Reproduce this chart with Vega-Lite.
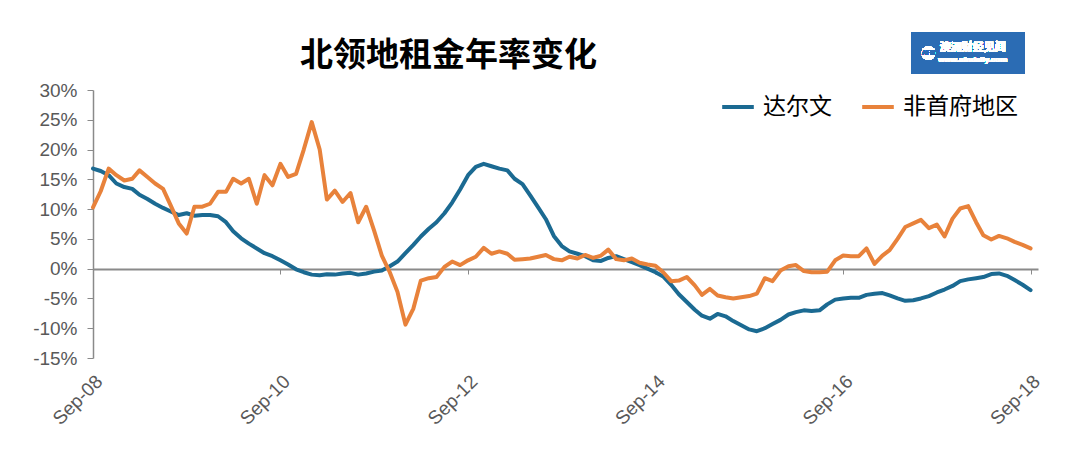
{
  "$schema": "https://vega.github.io/schema/vega-lite/v6.json",
  "width": 945,
  "height": 268,
  "autosize": {"type": "none"},
  "padding": {"left": 93, "top": 90, "right": 42, "bottom": 116},
  "background": "white",
  "config": {
    "view": {"stroke": null},
    "font": "Liberation Sans",
    "axisX": {
      "title": null,
      "grid": false,
      "format": "%b-%y",
      "offset": -89,
      "domainColor": "#8a8a8a",
      "domainWidth": 2,
      "tickColor": "#8a8a8a",
      "tickSize": 5,
      "labelAngle": -45,
      "labelAlign": "right",
      "labelBaseline": "middle",
      "labelPadding": 104,
      "labelOffset": 6,
      "labelFont": "Liberation Sans",
      "labelFontSize": 19,
      "labelColor": "#595959",
      "labelOverlap": false
    },
    "axisY": {
      "title": null,
      "grid": false,
      "labelExpr": "datum.value + '%'",
      "labelOverlap": false,
      "labelBound": false,
      "domainColor": "#8a8a8a",
      "domainWidth": 1.5,
      "tickColor": "#8a8a8a",
      "tickSize": 6,
      "labelPadding": 10,
      "labelFont": "Liberation Sans",
      "labelFontSize": 19,
      "labelColor": "#595959"
    }
  },
  "title": {
    "text": "北领地租金年率变化",
    "font": "Noto Sans CJK SC",
    "fontSize": 33,
    "fontWeight": "bold",
    "color": "#000000",
    "anchor": "start",
    "frame": "group",
    "dx": 207,
    "offset": -40
  },
  "data": {
    "values": [
      {"月份": "2008-09-01", "达尔文": 16.8, "非首府地区": 10.3},
      {"月份": "2008-10-01", "达尔文": 16.4, "非首府地区": 13.0},
      {"月份": "2008-11-01", "达尔文": 15.7, "非首府地区": 16.8},
      {"月份": "2008-12-01", "达尔文": 14.3, "非首府地区": 15.7},
      {"月份": "2009-01-01", "达尔文": 13.7, "非首府地区": 14.8},
      {"月份": "2009-02-01", "达尔文": 13.4, "非首府地区": 15.1},
      {"月份": "2009-03-01", "达尔文": 12.4, "非首府地区": 16.5},
      {"月份": "2009-04-01", "达尔文": 11.7, "非首府地区": 15.4},
      {"月份": "2009-05-01", "达尔文": 10.9, "非首府地区": 14.3},
      {"月份": "2009-06-01", "达尔文": 10.2, "非首府地区": 13.4},
      {"月份": "2009-07-01", "达尔文": 9.6, "非首府地区": 10.6},
      {"月份": "2009-08-01", "达尔文": 9.0, "非首府地区": 7.6},
      {"月份": "2009-09-01", "达尔文": 9.3, "非首府地区": 5.9},
      {"月份": "2009-10-01", "达尔文": 8.9, "非首府地区": 10.4},
      {"月份": "2009-11-01", "达尔文": 9.0, "非首府地区": 10.4},
      {"月份": "2009-12-01", "达尔文": 9.0, "非首府地区": 10.9},
      {"月份": "2010-01-01", "达尔文": 8.8, "非首府地区": 12.9},
      {"月份": "2010-02-01", "达尔文": 7.8, "非首府地区": 12.9},
      {"月份": "2010-03-01", "达尔文": 6.3, "非首府地区": 15.1},
      {"月份": "2010-04-01", "达尔文": 5.1, "非首府地区": 14.3},
      {"月份": "2010-05-01", "达尔文": 4.2, "非首府地区": 15.1},
      {"月份": "2010-06-01", "达尔文": 3.4, "非首府地区": 10.9},
      {"月份": "2010-07-01", "达尔文": 2.6, "非首府地区": 15.7},
      {"月份": "2010-08-01", "达尔文": 2.1, "非首府地区": 14.0},
      {"月份": "2010-09-01", "达尔文": 1.4, "非首府地区": 17.6},
      {"月份": "2010-10-01", "达尔文": 0.7, "非首府地区": 15.4},
      {"月份": "2010-11-01", "达尔文": -0.1, "非首府地区": 15.9},
      {"月份": "2010-12-01", "达尔文": -0.6, "非首府地区": 20.0},
      {"月份": "2011-01-01", "达尔文": -1.0, "非首府地区": 24.6},
      {"月份": "2011-02-01", "达尔文": -1.1, "非首府地区": 20.0},
      {"月份": "2011-03-01", "达尔文": -0.95, "非首府地区": 11.6},
      {"月份": "2011-04-01", "达尔文": -1.0, "非首府地区": 13.1},
      {"月份": "2011-05-01", "达尔文": -0.8, "非首府地区": 11.2},
      {"月份": "2011-06-01", "达尔文": -0.7, "非首府地区": 12.7},
      {"月份": "2011-07-01", "达尔文": -1.0, "非首府地区": 7.8},
      {"月份": "2011-08-01", "达尔文": -0.8, "非首府地区": 10.4},
      {"月份": "2011-09-01", "达尔文": -0.5, "非首府地区": 6.4},
      {"月份": "2011-10-01", "达尔文": -0.3, "非首府地区": 2.2},
      {"月份": "2011-11-01", "达尔文": 0.4, "非首府地区": -0.6},
      {"月份": "2011-12-01", "达尔文": 1.2, "非首府地区": -3.9},
      {"月份": "2012-01-01", "达尔文": 2.6, "非首府地区": -9.4},
      {"月份": "2012-02-01", "达尔文": 4.0, "非首府地区": -6.7},
      {"月份": "2012-03-01", "达尔文": 5.4, "非首府地区": -2.0},
      {"月份": "2012-04-01", "达尔文": 6.7, "非首府地区": -1.6},
      {"月份": "2012-05-01", "达尔文": 7.8, "非首府地区": -1.4},
      {"月份": "2012-06-01", "达尔文": 9.3, "非首府地区": 0.3},
      {"月份": "2012-07-01", "达尔文": 11.1, "非首府地区": 1.2},
      {"月份": "2012-08-01", "达尔文": 13.3, "非首府地区": 0.6},
      {"月份": "2012-09-01", "达尔文": 15.7, "非首府地区": 1.4},
      {"月份": "2012-10-01", "达尔文": 17.1, "非首府地区": 2.0},
      {"月份": "2012-11-01", "达尔文": 17.6, "非首府地区": 3.5},
      {"月份": "2012-12-01", "达尔文": 17.2, "非首府地区": 2.5},
      {"月份": "2013-01-01", "达尔文": 16.8, "非首府地区": 2.9},
      {"月份": "2013-02-01", "达尔文": 16.5, "非首府地区": 2.5},
      {"月份": "2013-03-01", "达尔文": 15.1, "非首府地区": 1.5},
      {"月份": "2013-04-01", "达尔文": 14.2, "非首府地区": 1.6},
      {"月份": "2013-05-01", "达尔文": 12.3, "非首府地区": 1.7},
      {"月份": "2013-06-01", "达尔文": 10.3, "非首府地区": 2.0},
      {"月份": "2013-07-01", "达尔文": 8.3, "非首府地区": 2.3},
      {"月份": "2013-08-01", "达尔文": 5.5, "非首府地区": 1.6},
      {"月份": "2013-09-01", "达尔文": 3.8, "非首府地区": 1.4},
      {"月份": "2013-10-01", "达尔文": 2.9, "非首府地区": 2.0},
      {"月份": "2013-11-01", "达尔文": 2.5, "非首府地区": 1.7},
      {"月份": "2013-12-01", "达尔文": 2.1, "非首府地区": 2.3},
      {"月份": "2014-01-01", "达尔文": 1.4, "非首府地区": 1.8},
      {"月份": "2014-02-01", "达尔文": 1.3, "非首府地区": 2.2},
      {"月份": "2014-03-01", "达尔文": 1.8, "非首府地区": 3.2},
      {"月份": "2014-04-01", "达尔文": 2.1, "非首府地区": 1.6},
      {"月份": "2014-05-01", "达尔文": 1.6, "非首府地区": 1.4},
      {"月份": "2014-06-01", "达尔文": 1.1, "非首府地区": 1.7},
      {"月份": "2014-07-01", "达尔文": 0.6, "非首府地区": 1.0},
      {"月份": "2014-08-01", "达尔文": 0.0, "非首府地区": 0.7},
      {"月份": "2014-09-01", "达尔文": -0.6, "非首府地区": 0.5},
      {"月份": "2014-10-01", "达尔文": -1.3, "非首府地区": -0.6},
      {"月份": "2014-11-01", "达尔文": -2.7, "非首府地区": -2.1},
      {"月份": "2014-12-01", "达尔文": -4.3, "非首府地区": -2.0},
      {"月份": "2015-01-01", "达尔文": -5.6, "非首府地区": -1.4},
      {"月份": "2015-02-01", "达尔文": -6.9, "非首府地区": -2.8},
      {"月份": "2015-03-01", "达尔文": -7.9, "非首府地区": -4.4},
      {"月份": "2015-04-01", "达尔文": -8.4, "非首府地区": -3.4},
      {"月份": "2015-05-01", "达尔文": -7.6, "非首府地区": -4.5},
      {"月份": "2015-06-01", "达尔文": -8.0, "非首府地区": -4.8},
      {"月份": "2015-07-01", "达尔文": -8.8, "非首府地区": -5.0},
      {"月份": "2015-08-01", "达尔文": -9.5, "非首府地区": -4.8},
      {"月份": "2015-09-01", "达尔文": -10.2, "非首府地区": -4.6},
      {"月份": "2015-10-01", "达尔文": -10.5, "非首府地区": -4.2},
      {"月份": "2015-11-01", "达尔文": -10.0, "非首府地区": -1.6},
      {"月份": "2015-12-01", "达尔文": -9.3, "非首府地区": -2.1},
      {"月份": "2016-01-01", "达尔文": -8.6, "非首府地区": -0.3},
      {"月份": "2016-02-01", "达尔文": -7.7, "非首府地区": 0.4},
      {"月份": "2016-03-01", "达尔文": -7.3, "非首府地区": 0.6},
      {"月份": "2016-04-01", "达尔文": -7.0, "非首府地区": -0.4},
      {"月份": "2016-05-01", "达尔文": -7.1, "非首府地区": -0.6},
      {"月份": "2016-06-01", "达尔文": -7.0, "非首府地区": -0.6},
      {"月份": "2016-07-01", "达尔文": -6.0, "非首府地区": -0.5},
      {"月份": "2016-08-01", "达尔文": -5.2, "非首府地区": 1.4},
      {"月份": "2016-09-01", "达尔文": -5.0, "非首府地区": 2.2},
      {"月份": "2016-10-01", "达尔文": -4.9, "非首府地区": 2.1},
      {"月份": "2016-11-01", "达尔文": -4.9, "非首府地区": 2.1},
      {"月份": "2016-12-01", "达尔文": -4.4, "非首府地区": 3.4},
      {"月份": "2017-01-01", "达尔文": -4.2, "非首府地区": 0.8},
      {"月份": "2017-02-01", "达尔文": -4.1, "非首府地区": 2.2},
      {"月份": "2017-03-01", "达尔文": -4.5, "非首府地区": 3.1},
      {"月份": "2017-04-01", "达尔文": -5.0, "非首府地区": 5.0},
      {"月份": "2017-05-01", "达尔文": -5.4, "非首府地区": 7.0},
      {"月份": "2017-06-01", "达尔文": -5.3, "非首府地区": 7.6},
      {"月份": "2017-07-01", "达尔文": -5.0, "非首府地区": 8.2},
      {"月份": "2017-08-01", "达尔文": -4.6, "非首府地区": 6.8},
      {"月份": "2017-09-01", "达尔文": -4.0, "非首府地区": 7.4},
      {"月份": "2017-10-01", "达尔文": -3.5, "非首府地区": 5.4},
      {"月份": "2017-11-01", "达尔文": -2.9, "非首府地区": 8.4},
      {"月份": "2017-12-01", "达尔文": -2.1, "非首府地区": 10.1},
      {"月份": "2018-01-01", "达尔文": -1.8, "非首府地区": 10.5},
      {"月份": "2018-02-01", "达尔文": -1.6, "非首府地区": 7.8},
      {"月份": "2018-03-01", "达尔文": -1.4, "非首府地区": 5.6},
      {"月份": "2018-04-01", "达尔文": -0.9, "非首府地区": 4.9},
      {"月份": "2018-05-01", "达尔文": -0.8, "非首府地区": 5.5},
      {"月份": "2018-06-01", "达尔文": -1.2, "非首府地区": 5.1},
      {"月份": "2018-07-01", "达尔文": -1.9, "非首府地区": 4.5},
      {"月份": "2018-08-01", "达尔文": -2.7, "非首府地区": 4.0},
      {"月份": "2018-09-01", "达尔文": -3.6, "非首府地区": 3.4}
    ]
  },
  "layer": [
    {
      "transform": [{"fold": ["达尔文", "非首府地区"], "as": ["地区", "年率"]}],
      "mark": {"type": "line", "strokeWidth": 4, "strokeJoin": "round", "strokeCap": "round"},
      "encoding": {
        "x": {
          "field": "月份",
          "type": "temporal",
          "scale": {"domain": [{"year": 2008, "month": 9, "date": 1}, {"year": 2018, "month": 9, "date": 30}]},
          "axis": {
            "tickCount": 20,
            "values": [
              {"year": 2008, "month": 9, "date": 1},
              {"year": 2010, "month": 9, "date": 1},
              {"year": 2012, "month": 9, "date": 1},
              {"year": 2014, "month": 9, "date": 1},
              {"year": 2016, "month": 9, "date": 1},
              {"year": 2018, "month": 9, "date": 1}
            ]
          }
        },
        "y": {
          "field": "年率",
          "type": "quantitative",
          "scale": {"domain": [-15, 30], "nice": false, "zero": false},
          "axis": {"values": [-15, -10, -5, 0, 5, 10, 15, 20, 25, 30], "tickCount": 20, "labelOverlap": false}
        },
        "color": {
          "field": "地区",
          "type": "nominal",
          "scale": {"domain": ["达尔文", "非首府地区"], "range": ["#1b6a92", "#e8823b"]},
          "legend": {
            "title": null,
            "orient": "none",
            "legendX": 627,
            "legendY": -1,
            "direction": "horizontal",
            "symbolType": "stroke",
            "symbolStrokeWidth": 4,
            "symbolSize": 1000,
            "labelFont": "Noto Sans CJK SC",
            "labelFontSize": 23,
            "labelColor": "#000000",
            "labelOffset": 7,
            "columnPadding": 22
          }
        }
      }
    },
    {
      "mark": {"type": "rect", "color": "#2b6cb4"},
      "encoding": {
        "x": {"datum": {"year": 2017, "month": 5, "date": 25}},
        "x2": {"datum": {"year": 2018, "month": 8, "date": 10}},
        "y": {"datum": 39.6},
        "y2": {"datum": 32.7}
      }
    },
    {
      "mark": {"type": "point", "filled": true, "color": "#ffffff", "opacity": 1, "size": 190},
      "encoding": {
        "x": {"datum": {"year": 2017, "month": 7, "date": 30}},
        "y": {"datum": 36.2}
      }
    },
    {
      "mark": {"type": "text", "text": "AFN", "font": "Liberation Sans", "fontSize": 6.5, "fontWeight": "bold", "color": "#2b6cb4", "align": "center", "baseline": "middle"},
      "encoding": {
        "x": {"datum": {"year": 2017, "month": 7, "date": 30}},
        "y": {"datum": 36.2}
      }
    },
    {
      "mark": {"type": "text", "text": "澳洲财经见闻", "font": "Noto Sans CJK SC", "fontSize": 11, "fontWeight": "bold", "color": "#ffffff", "align": "center", "baseline": "middle"},
      "encoding": {
        "x": {"datum": {"year": 2018, "month": 1, "date": 19}},
        "y": {"datum": 37.0}
      }
    },
    {
      "mark": {"type": "text", "text": "www.afndaily.com", "font": "Liberation Sans", "fontSize": 8, "fontWeight": "bold", "color": "#ffffff", "align": "center", "baseline": "middle"},
      "encoding": {
        "x": {"datum": {"year": 2018, "month": 1, "date": 19}},
        "y": {"datum": 35.05}
      }
    }
  ]
}
